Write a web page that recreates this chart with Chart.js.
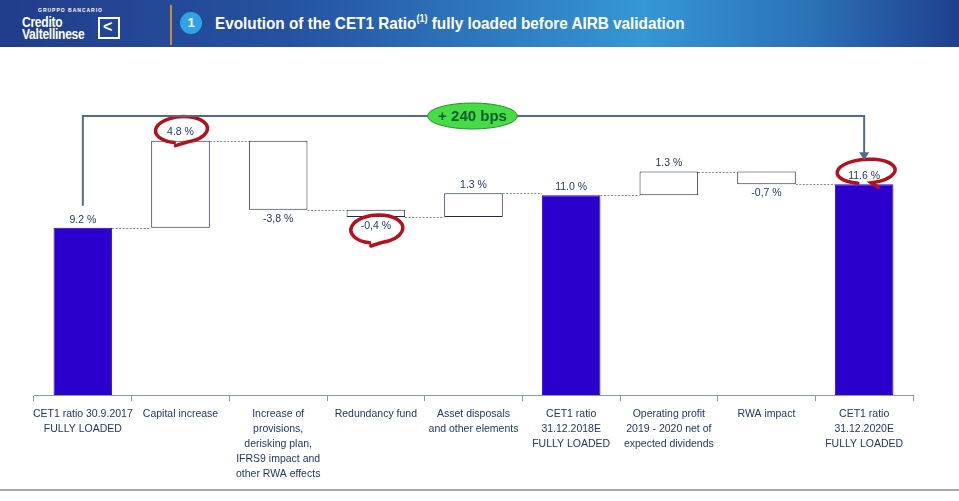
<!DOCTYPE html>
<html>
<head>
<meta charset="utf-8">
<script src="https://cdn.jsdelivr.net/npm/chart.js@4.4.0/dist/chart.umd.min.js"></script>
<style>
  body { margin:0; background:#fff; font-family:"Liberation Sans",Arial,sans-serif; }
  #wrap { position:relative; width:959px; height:501px; overflow:hidden; }
  #chart { position:absolute; left:0; top:0; }
  #head { position:absolute; left:0; top:0; width:959px; height:47px;
    background:linear-gradient(90deg,#213d8b 0%,#2552a0 30%,#3597d5 67%,#2b70b6 85%,#1f3f8e 100%); }
  .small { position:absolute; left:38px; top:7px; color:#fff; font:bold 5px "Liberation Sans",Arial,sans-serif; letter-spacing:1px; }
  .brand { position:absolute; left:22px; top:16px; color:#fff; font:bold 14px/12px "Liberation Sans",sans-serif; transform:scaleX(0.86); transform-origin:left top; letter-spacing:-0.3px; }
  .box { position:absolute; left:98px; top:17px; width:22px; height:22px; border:2px solid #fff; box-sizing:border-box; }
  .box span { position:absolute; left:3px; top:-1px; color:#fff; font:bold 16px "Liberation Sans",sans-serif; }
  .sep { position:absolute; left:170px; top:5px; width:2px; height:40px; background:#c98a3c; }
  .num { position:absolute; left:180px; top:12px; width:22px; height:22px; border-radius:50%; background:#2fa3e4; color:#fff; text-align:center; font:bold 13px/22px "Liberation Sans",sans-serif; }
  .title { position:absolute; left:215px; top:13px; color:#fff; font:bold 17px "Liberation Sans",sans-serif; white-space:nowrap; transform:scaleX(0.9); transform-origin:left top; }
  .title sup { font-size:10px; }
  #foot { position:absolute; left:0; top:489px; width:959px; height:2px; background:#a8a8a8; }
</style>
</head>
<body>
<div id="wrap">
  <canvas id="chart" width="959" height="501"></canvas>
  <div id="head">
    <div class="small">GRUPPO BANCARIO</div>
    <div class="brand">Credito<br>Valtellinese</div>
    <div class="box"><span>&lt;</span></div>
    <div class="sep"></div>
    <div class="num">1</div>
    <div class="title">Evolution of the CET1 Ratio<sup>(1)</sup> fully loaded before AIRB validation</div>
  </div>
  <div id="foot"></div>
</div>
<script>
// waterfall steps
var categories = [
  ["CET1 ratio 30.9.2017", "FULLY LOADED"],
  ["Capital increase"],
  ["Increase of", "provisions,", "derisking plan,", "IFRS9 impact and", "other RWA effects"],
  ["Redundancy fund"],
  ["Asset disposals", "and other elements"],
  ["CET1 ratio", "31.12.2018E", "FULLY LOADED"],
  ["Operating profit", "2019 - 2020 net of", "expected dividends"],
  ["RWA impact"],
  ["CET1 ratio", "31.12.2020E", "FULLY LOADED"]
];
var changes = [9.2, 4.8, -3.8, -0.4, 1.3, 11.0, 1.3, -0.7, 11.6];
var isTotal = [true, false, false, false, false, true, false, false, true];
var valueLabels = ["9.2 %", "4.8 %", "-3,8 %", "-0,4 %", "1.3 %", "11.0 %", "1.3 %", "-0,7 %", "11.6 %"];
var circled = [1, 3, 8];
var bracketText = "+ 240 bps";
var bracketFrom = 0, bracketTo = 8;

// floating bars [start, end]
var bars = [], ends = [];
var run = 0;
for (var i = 0; i < changes.length; i++) {
  if (isTotal[i]) { bars.push([0, changes[i]]); run = changes[i]; }
  else { bars.push([run, run + changes[i]]); run = run + changes[i]; }
  ends.push(run);
}

var fam = '"Liberation Sans",Arial,sans-serif';
var labelFont = '10.5px ' + fam;
var textCol = '#1f3864';

var overlay = {
  id: 'overlay',
  afterDatasetsDraw: function(chart) {
    var ctx = chart.ctx, y = chart.scales.y, meta = chart.getDatasetMeta(0);
    ctx.save();
    // dotted connectors
    ctx.strokeStyle = '#7f8aa0';
    ctx.lineWidth = 1;
    ctx.setLineDash([2, 1.5]);
    for (var i = 0; i < bars.length - 1; i++) {
      var a = meta.data[i], b = meta.data[i + 1];
      var py = Math.round(y.getPixelForValue(ends[i])) + 0.5;
      ctx.beginPath();
      ctx.moveTo(a.x + a.width / 2, py);
      ctx.lineTo(b.x - b.width / 2, py);
      ctx.stroke();
    }
    ctx.setLineDash([]);

    // value labels
    ctx.font = labelFont;
    ctx.fillStyle = textCol;
    ctx.textAlign = 'center';
    var labelPos = [];
    for (var i = 0; i < bars.length; i++) {
      var el = meta.data[i];
      var hi = Math.max(bars[i][0], bars[i][1]), lo = Math.min(bars[i][0], bars[i][1]);
      var ly;
      if (changes[i] < 0) { ly = y.getPixelForValue(lo) + 4; ctx.textBaseline = 'top'; ctx.fillText(valueLabels[i], el.x, ly); ly += 7; }
      else { ly = y.getPixelForValue(hi) - 3; ctx.textBaseline = 'bottom'; ctx.fillText(valueLabels[i], el.x, ly); ly -= 7; }
      labelPos.push({x: el.x, y: ly});
    }

    // red hand-drawn circles
    ctx.strokeStyle = '#b3121c';
    ctx.lineWidth = 3.5;
    ctx.lineCap = 'round';
    circled.forEach(function(i) {
      var p = labelPos[i];
      var cx = p.x + 1, cy = p.y - 1, rx = 26, ry = 13;
      if (i === 3) { cy = p.y + 1; ry = 14; }
      if (i === 8) { cx = p.x + 2; rx = 29; ry = 12; cy = p.y - 3; }
      ctx.beginPath();
      ctx.ellipse(cx, cy, rx, ry, -0.06, 0.6 * Math.PI, 2.45 * Math.PI);
      if (i === 8) ctx.lineTo(cx + 12, cy + ry + 4);
      else ctx.lineTo(cx - 6, cy + ry + 3);
      ctx.stroke();
    });

    // +240 bps bracket
    var x0 = meta.data[bracketFrom].x, x1 = meta.data[bracketTo].x;
    var topY = 116;
    var startY = y.getPixelForValue(bars[bracketFrom][1]) - 22;
    var endY = y.getPixelForValue(bars[bracketTo][1]) - 24;
    ctx.strokeStyle = '#4f6c8c';
    ctx.lineWidth = 2;
    ctx.lineCap = 'butt';
    ctx.beginPath();
    ctx.moveTo(x0, startY);
    ctx.lineTo(x0, topY);
    ctx.lineTo(x1, topY);
    ctx.lineTo(x1, endY - 6);
    ctx.stroke();
    ctx.fillStyle = '#4f6c8c';
    ctx.beginPath();
    ctx.moveTo(x1 - 5, endY - 8);
    ctx.lineTo(x1 + 5, endY - 8);
    ctx.lineTo(x1, endY);
    ctx.closePath();
    ctx.fill();

    // green bubble
    var bx = (chart.chartArea.left + chart.chartArea.right) / 2 - 1;
    ctx.beginPath();
    ctx.ellipse(bx, topY, 45, 13, 0, 0, 2 * Math.PI);
    ctx.fillStyle = '#45dc45';
    ctx.fill();
    ctx.lineWidth = 1;
    ctx.strokeStyle = '#2a8f2a';
    ctx.stroke();
    ctx.fillStyle = '#145a32';
    ctx.font = 'bold 15px ' + fam;
    ctx.textBaseline = 'middle';
    ctx.fillText(bracketText, bx, topY + 1);
    ctx.restore();
  }
};

var canvas = document.getElementById('chart').getContext('2d');
window.cet1 = new Chart(canvas, {
  type: 'bar',
  data: {
    labels: categories,
    datasets: [{
      data: bars,
      backgroundColor: isTotal.map(function(t) { return t ? '#2c00cc' : '#ffffff'; }),
      borderColor: isTotal.map(function(t) { return t ? '#2c00cc' : '#1f2a4a'; }),
      borderWidth: 1,
      borderSkipped: false,
      barPercentage: 0.6,
      categoryPercentage: 1
    }]
  },
  options: {
    responsive: false,
    animation: false,
    layout: { padding: { left: 34, right: 46, top: 68, bottom: 0 } },
    plugins: { legend: { display: false }, tooltip: { enabled: false } },
    scales: {
      x: {
        offset: true,
        afterFit: function(s) { s.height = 106; },
        grid: { offset: true, drawOnChartArea: false, tickLength: 6, color: '#8a9ab0' },
        border: { color: '#8a9ab0', width: 1 },
        ticks: {
          color: textCol, padding: 5, maxRotation: 0, autoSkip: false,
          font: { family: fam, size: 10.5, lineHeight: 1.45 }
        }
      },
      y: { display: false, min: 0, max: 18 }
    }
  },
  plugins: [overlay]
});
</script>
</body>
</html>
